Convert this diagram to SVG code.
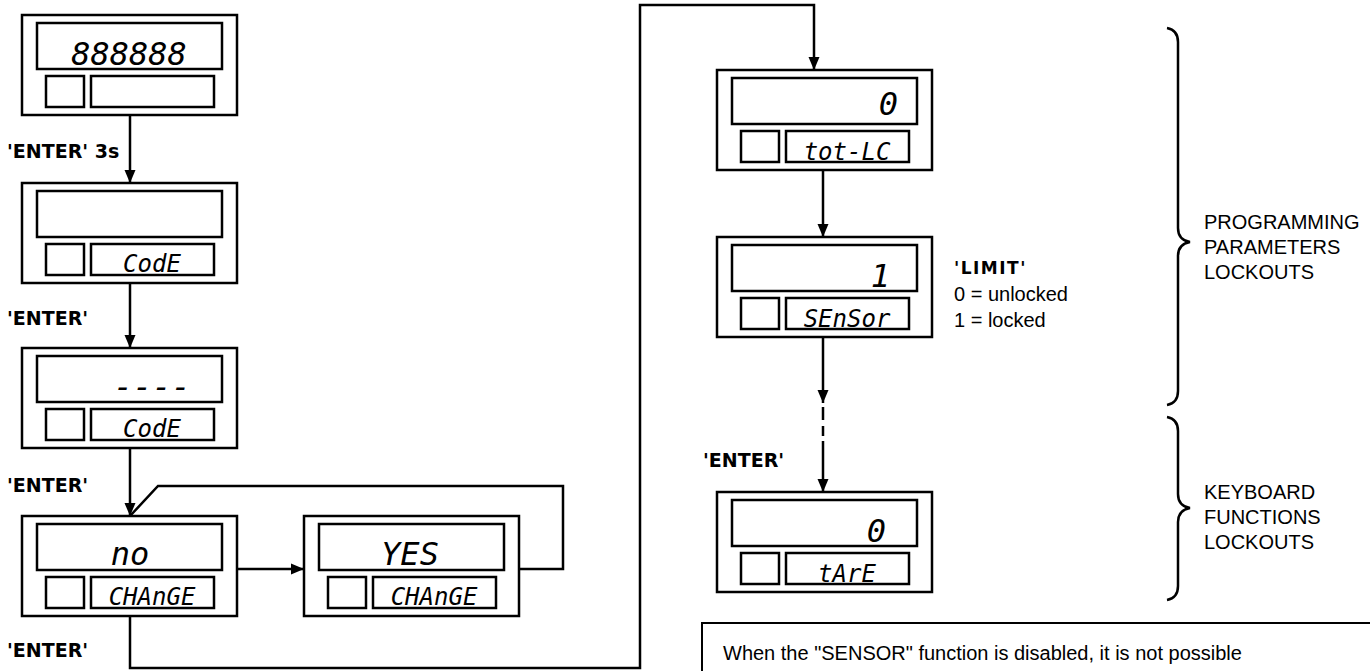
<svg xmlns="http://www.w3.org/2000/svg" xmlns:xlink="http://www.w3.org/1999/xlink" width="1370" height="671" viewBox="0 0 1370 671">
<style>
.frame{fill:#fff;stroke:#000;stroke-width:2.5}
.win{fill:none;stroke:#000;stroke-width:2.5}
.lcd{font-family:"DejaVu Sans Mono",monospace;font-style:oblique;fill:#000}
.big{font-size:32px}
.sm{font-size:24px;text-anchor:middle}
.lbl{font-family:"DejaVu Sans",sans-serif;font-weight:bold;font-size:19px;fill:#000}
.note{font-family:"Liberation Sans",Arial,sans-serif;font-size:20px;fill:#000}
.conn{fill:none;stroke:#000;stroke-width:2.5}
.brace{fill:none;stroke:#000;stroke-width:2.5}
</style>
<defs>
<marker id="arr" markerUnits="userSpaceOnUse" markerWidth="13" markerHeight="13" viewBox="0 0 13 11" refX="13" refY="5.5" orient="auto">
<path d="M0,0 L13,5.5 L0,11 z" fill="#000"/>
</marker>
<g id="panel">
<rect class="frame" x="0" y="0" width="215" height="100"/>
<rect class="win" x="15" y="8" width="185" height="46"/>
<rect class="win" x="24" y="61" width="38" height="31"/>
<rect class="win" x="69" y="61" width="123" height="31"/>
</g>
</defs>
<rect width="1370" height="671" fill="#fff"/>

<g id="connectors">
<line class="conn" x1="130" y1="115" x2="130" y2="183" marker-end="url(#arr)"/>
<line class="conn" x1="130" y1="283" x2="130" y2="348" marker-end="url(#arr)"/>
<line class="conn" x1="130" y1="448" x2="130" y2="516" marker-end="url(#arr)"/>
<polyline class="conn" points="520,569 563,569 563,486 158,486 130,516"/>
<line class="conn" x1="237" y1="569" x2="304" y2="569" marker-end="url(#arr)"/>
<polyline class="conn" points="130,616 130,668 640,668 640,5 814,5 814,70" marker-end="url(#arr)"/>
<line class="conn" x1="823" y1="170" x2="823" y2="237" marker-end="url(#arr)"/>
<line class="conn" x1="823" y1="337" x2="823" y2="403" marker-end="url(#arr)"/>
<line class="conn" x1="823" y1="407" x2="823" y2="420"/>
<line class="conn" x1="823" y1="426" x2="823" y2="436"/>
<line class="conn" x1="823" y1="441" x2="823" y2="492" marker-end="url(#arr)"/>
</g>

<g id="n1">
<use xlink:href="#panel" x="22" y="15"/>
<text class="lcd big" x="129" y="65" text-anchor="middle">888888</text>
</g>
<g id="n2">
<use xlink:href="#panel" x="22" y="183"/>
<text class="lcd sm" x="152" y="272">CodE</text>
</g>
<g id="n3">
<use xlink:href="#panel" x="22" y="348"/>
<text class="lcd big" x="152" y="398" text-anchor="middle">----</text>
<text class="lcd sm" x="152" y="437">CodE</text>
</g>
<g id="n4">
<use xlink:href="#panel" x="22" y="516"/>
<text class="lcd big" x="130" y="565" text-anchor="middle">no</text>
<text class="lcd sm" x="152" y="605">CHAnGE</text>
</g>
<g id="n5">
<use xlink:href="#panel" x="304" y="516"/>
<text class="lcd big" x="410" y="565" text-anchor="middle">YES</text>
<text class="lcd sm" x="434" y="605">CHAnGE</text>
</g>
<g id="n6">
<use xlink:href="#panel" x="717" y="70"/>
<text class="lcd big" x="898" y="115" text-anchor="end">0</text>
<text class="lcd sm" x="847" y="160">tot-LC</text>
</g>
<g id="n7">
<use xlink:href="#panel" x="717" y="237"/>
<text class="lcd big" x="890" y="287" text-anchor="end">1</text>
<text class="lcd sm" x="847" y="327">SEnSor</text>
</g>
<g id="n8">
<use xlink:href="#panel" x="717" y="492"/>
<text class="lcd big" x="886" y="542" text-anchor="end">0</text>
<text class="lcd sm" x="847" y="582">tArE</text>
</g>

<g id="labels">
<text class="lbl" x="7" y="158">'ENTER' 3s</text>
<text class="lbl" x="7" y="325">'ENTER'</text>
<text class="lbl" x="7" y="492">'ENTER'</text>
<text class="lbl" x="7" y="657">'ENTER'</text>
<text class="lbl" x="703" y="467">'ENTER'</text>
<text class="lbl" x="954" y="274" style="font-size:17px;letter-spacing:1.5px">'LIMIT'</text>
<text class="note" x="954" y="301">0 = unlocked</text>
<text class="note" x="954" y="327">1 = locked</text>
</g>

<g id="brace1">
<path class="brace" d="M1167,28 Q1178,30 1178,42 L1178,228 Q1178,240 1190,242 Q1178,244 1178,256 L1178,391 Q1178,403 1167,405"/>
<text class="note" x="1204" y="229">PROGRAMMING</text>
<text class="note" x="1204" y="254">PARAMETERS</text>
<text class="note" x="1204" y="279">LOCKOUTS</text>
</g>
<g id="brace2">
<path class="brace" d="M1167,417 Q1178,419 1178,431 L1178,494 Q1178,506 1190,508 Q1178,510 1178,522 L1178,586 Q1178,598 1167,600"/>
<text class="note" x="1204" y="499">KEYBOARD</text>
<text class="note" x="1204" y="524">FUNCTIONS</text>
<text class="note" x="1204" y="549">LOCKOUTS</text>
</g>

<g id="notebox">
<rect x="702" y="623" width="700" height="70" fill="#fff" stroke="#000" stroke-width="2"/>
<text class="note" x="723" y="660">When the "SENSOR" function is disabled, it is not possible</text>
</g>
</svg>
